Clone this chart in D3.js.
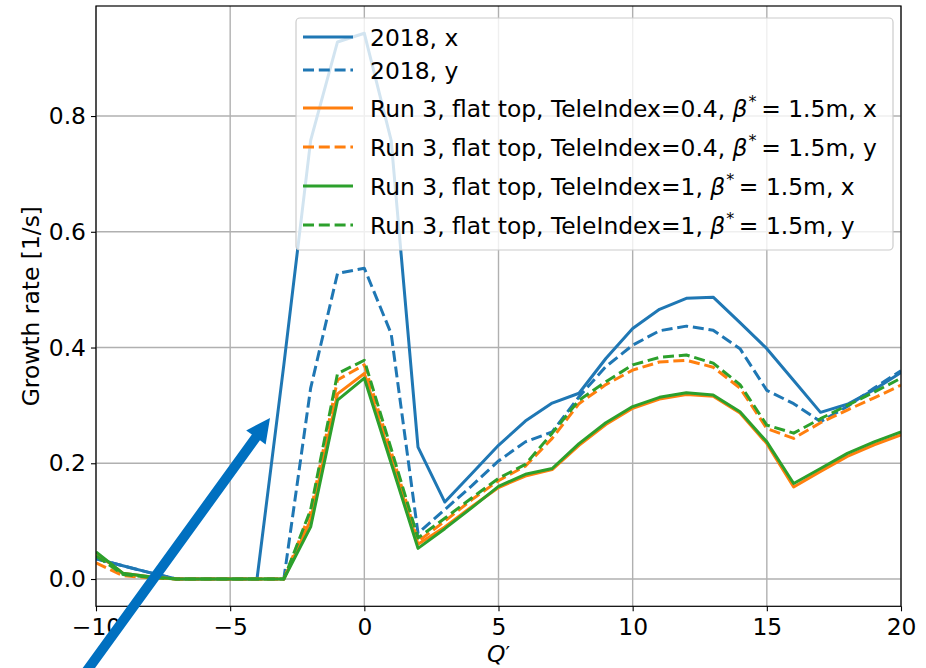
<!DOCTYPE html>
<html>
<head>
<meta charset="utf-8">
<script src="https://cdn.jsdelivr.net/npm/d3@7"></script>
<style>
  html, body { margin: 0; padding: 0; background: #fff; }
  svg { display: block; font-family: "DejaVu Sans", sans-serif; }
</style>
</head>
<body>
<svg id="chart" width="926" height="668"></svg>
<script>
// ---------------- data ----------------
const qPrime = [-10,-9,-8,-7,-6,-5,-4,-3,-2,-1,0,1,2,3,4,5,6,7,8,9,10,11,12,13,14,15,16,17,18,19,20];

const y2018x = [0.035,0.023,0.011,0,0,0,0,0.37,0.758,0.928,0.943,0.758,0.228,0.133,0.182,0.231,0.273,0.304,0.321,0.381,0.433,0.466,0.485,0.487,0.443,0.398,0.343,0.288,0.302,0.327,0.357];
const y2018y = [0.035,0.023,0.011,0,0,0,0,0,0.33,0.528,0.537,0.424,0.079,0.120,0.161,0.204,0.237,0.254,0.315,0.367,0.404,0.429,0.437,0.430,0.398,0.326,0.303,0.272,0.298,0.330,0.360];
const run3T04x = [0.045,0.010,0.004,0,0,0,0,0,0.102,0.320,0.355,0.207,0.060,0.090,0.125,0.158,0.178,0.189,0.231,0.267,0.295,0.311,0.319,0.316,0.287,0.234,0.159,0.186,0.212,0.232,0.249];
const run3T04y = [0.028,0.006,0.002,0,0,0,0,0,0.116,0.344,0.370,0.220,0.065,0.100,0.137,0.170,0.195,0.243,0.303,0.336,0.361,0.375,0.378,0.366,0.330,0.260,0.243,0.270,0.292,0.313,0.335];
const run3T1x = [0.047,0.010,0.004,0,0,0,0,0,0.090,0.309,0.347,0.200,0.053,0.087,0.123,0.160,0.181,0.191,0.234,0.270,0.298,0.314,0.322,0.318,0.289,0.237,0.165,0.191,0.217,0.237,0.254];
const run3T1y = [0.040,0.008,0.003,0,0,0,0,0,0.120,0.355,0.378,0.225,0.071,0.105,0.140,0.174,0.198,0.252,0.309,0.341,0.370,0.383,0.387,0.373,0.336,0.266,0.252,0.277,0.300,0.323,0.347];

const seriesNames = [
  ["2018, x"],
  ["2018, y"],
  ["Run 3, flat top, TeleIndex=0.4, ", "\u2009= 1.5m, x"],
  ["Run 3, flat top, TeleIndex=0.4, ", "\u2009= 1.5m, y"],
  ["Run 3, flat top, TeleIndex=1, ", "\u2009= 1.5m, x"],
  ["Run 3, flat top, TeleIndex=1, ", "\u2009= 1.5m, y"]
];
const seriesValues = [y2018x, y2018y, run3T04x, run3T04y, run3T1x, run3T1y];
const seriesColors = ["#1f77b4","#1f77b4","#ff7f0e","#ff7f0e","#2ca02c","#2ca02c"];
const seriesDashed = [false,true,false,true,false,true];

const xTicks = [-10,-5,0,5,10,15,20];
const yTicks = [0.0,0.2,0.4,0.6,0.8];
const xLabel = "Q";
const yLabel = "Growth rate [1/s]";

// ---------------- layout ----------------
const FS = 23.4;
const svg = d3.select("#chart");
const L = 96, R = 901, T = 6, B = 606.3;

const allVals = seriesValues.flat();
const yMin = d3.min(allVals), yMax = d3.max(allVals);
const pad = (yMax - yMin) * 0.05;

const x = d3.scaleLinear().domain([-10, 20]).range([L, R]);
const y = d3.scaleLinear().domain([yMin - pad, yMax + pad]).range([B, T]);

// grid
const grid = svg.append("g");
grid.selectAll(".gx").data(xTicks).enter().append("line")
  .attr("x1", d => x(d)).attr("x2", d => x(d)).attr("y1", T).attr("y2", B)
  .attr("stroke", "#b0b0b0").attr("stroke-width", 1.4);
grid.selectAll(".gy").data(yTicks).enter().append("line")
  .attr("x1", L).attr("x2", R).attr("y1", d => y(d)).attr("y2", d => y(d))
  .attr("stroke", "#b0b0b0").attr("stroke-width", 1.4);

// clip
svg.append("clipPath").attr("id", "clip").append("rect")
  .attr("x", L).attr("y", T).attr("width", R - L).attr("height", B - T);

// lines
const line = d3.line().x((d, i) => x(qPrime[i])).y(d => y(d));
const lines = svg.append("g").attr("clip-path", "url(#clip)");
seriesValues.forEach((vals, i) => {
  lines.append("path")
    .attr("d", line(vals))
    .attr("fill", "none")
    .attr("stroke", seriesColors[i])
    .attr("stroke-width", 3)
    .attr("stroke-linejoin", "round")
    .attr("stroke-dasharray", seriesDashed[i] ? "11,4.8" : null);
});

// axes
const fmtMinus = v => (v < 0 ? "\u2212" + Math.abs(v) : String(v));
const xAxis = d3.axisBottom(x).tickValues(xTicks).tickSize(5).tickPadding(7).tickFormat(fmtMinus);
const yAxis = d3.axisLeft(y).tickValues(yTicks).tickSize(5).tickPadding(5).tickFormat(d3.format(".1f"));

const gx = svg.append("g").attr("transform", `translate(0,${B})`).call(xAxis);
const gy = svg.append("g").attr("transform", `translate(${L},0)`).call(yAxis);
[gx, gy].forEach(g => {
  g.select(".domain").remove();
  g.selectAll(".tick line").attr("stroke", "#000").attr("stroke-width", 1.1);
  g.selectAll(".tick text").attr("font-family", "DejaVu Sans").attr("font-size", FS).attr("fill", "#000");
});

// spines
svg.append("rect").attr("x", L).attr("y", T).attr("width", R - L).attr("height", B - T)
  .attr("fill", "none").attr("stroke", "#000").attr("stroke-width", 1.2);

// axis labels
svg.append("text")
  .attr("transform", `translate(39,${(T + B) / 2}) rotate(-90)`)
  .attr("text-anchor", "middle").attr("font-size", FS).attr("fill", "#000")
  .text(yLabel);
const xl = svg.append("text")
  .attr("x", (L + R) / 2).attr("y", 662)
  .attr("text-anchor", "middle").attr("font-size", FS).attr("fill", "#000");
xl.append("tspan").attr("font-style", "italic").text(xLabel);
xl.append("tspan").attr("font-size", 20).attr("dy", -2).text("\u2032");

// legend
const lg = svg.append("g");
lg.append("rect").attr("x", 296).attr("y", 18).attr("width", 597).attr("height", 232)
  .attr("rx", 4).attr("fill", "#fff").attr("fill-opacity", 0.8)
  .attr("stroke", "#cccccc").attr("stroke-width", 1.2);
const rowY = [37, 70, 108, 147, 186, 225];
seriesNames.forEach((parts, i) => {
  const cy = rowY[i];
  lg.append("line").attr("x1", 303).attr("x2", 353).attr("y1", cy).attr("y2", cy)
    .attr("stroke", seriesColors[i]).attr("stroke-width", 3)
    .attr("stroke-dasharray", seriesDashed[i] ? "11,4.8" : null);
  const t = lg.append("text").attr("x", 370).attr("y", cy + 8.5)
    .attr("font-size", FS).attr("fill", "#000");
  t.append("tspan").text(parts[0]);
  if (parts.length > 1) {
    t.append("tspan").attr("font-style", "italic").text("\u03b2");
    t.append("tspan").attr("font-size", 16).attr("dy", -10).attr("dx", 1).text("*");
    t.append("tspan").attr("dy", 10).text(parts[1]);
  }
});

// annotation arrow
const ax0 = 78, ay0 = 683, ax1 = 270, ay1 = 418;
const dx = ax1 - ax0, dy = ay1 - ay0, len = Math.hypot(dx, dy);
const ux = dx / len, uy = dy / len, px = -uy, py = ux;
const headL = 24, headW = 12, shaftW = 5;
const bx = ax1 - ux * headL, by = ay1 - uy * headL;
const arrowPts = [
  [ax0 + px * shaftW, ay0 + py * shaftW],
  [bx + px * shaftW, by + py * shaftW],
  [bx + px * headW, by + py * headW],
  [ax1, ay1],
  [bx - px * headW, by - py * headW],
  [bx - px * shaftW, by - py * shaftW],
  [ax0 - px * shaftW, ay0 - py * shaftW]
];
svg.append("path").attr("d", d3.line()(arrowPts) + "Z").attr("fill", "#0070c0");
</script>
</body>
</html>
